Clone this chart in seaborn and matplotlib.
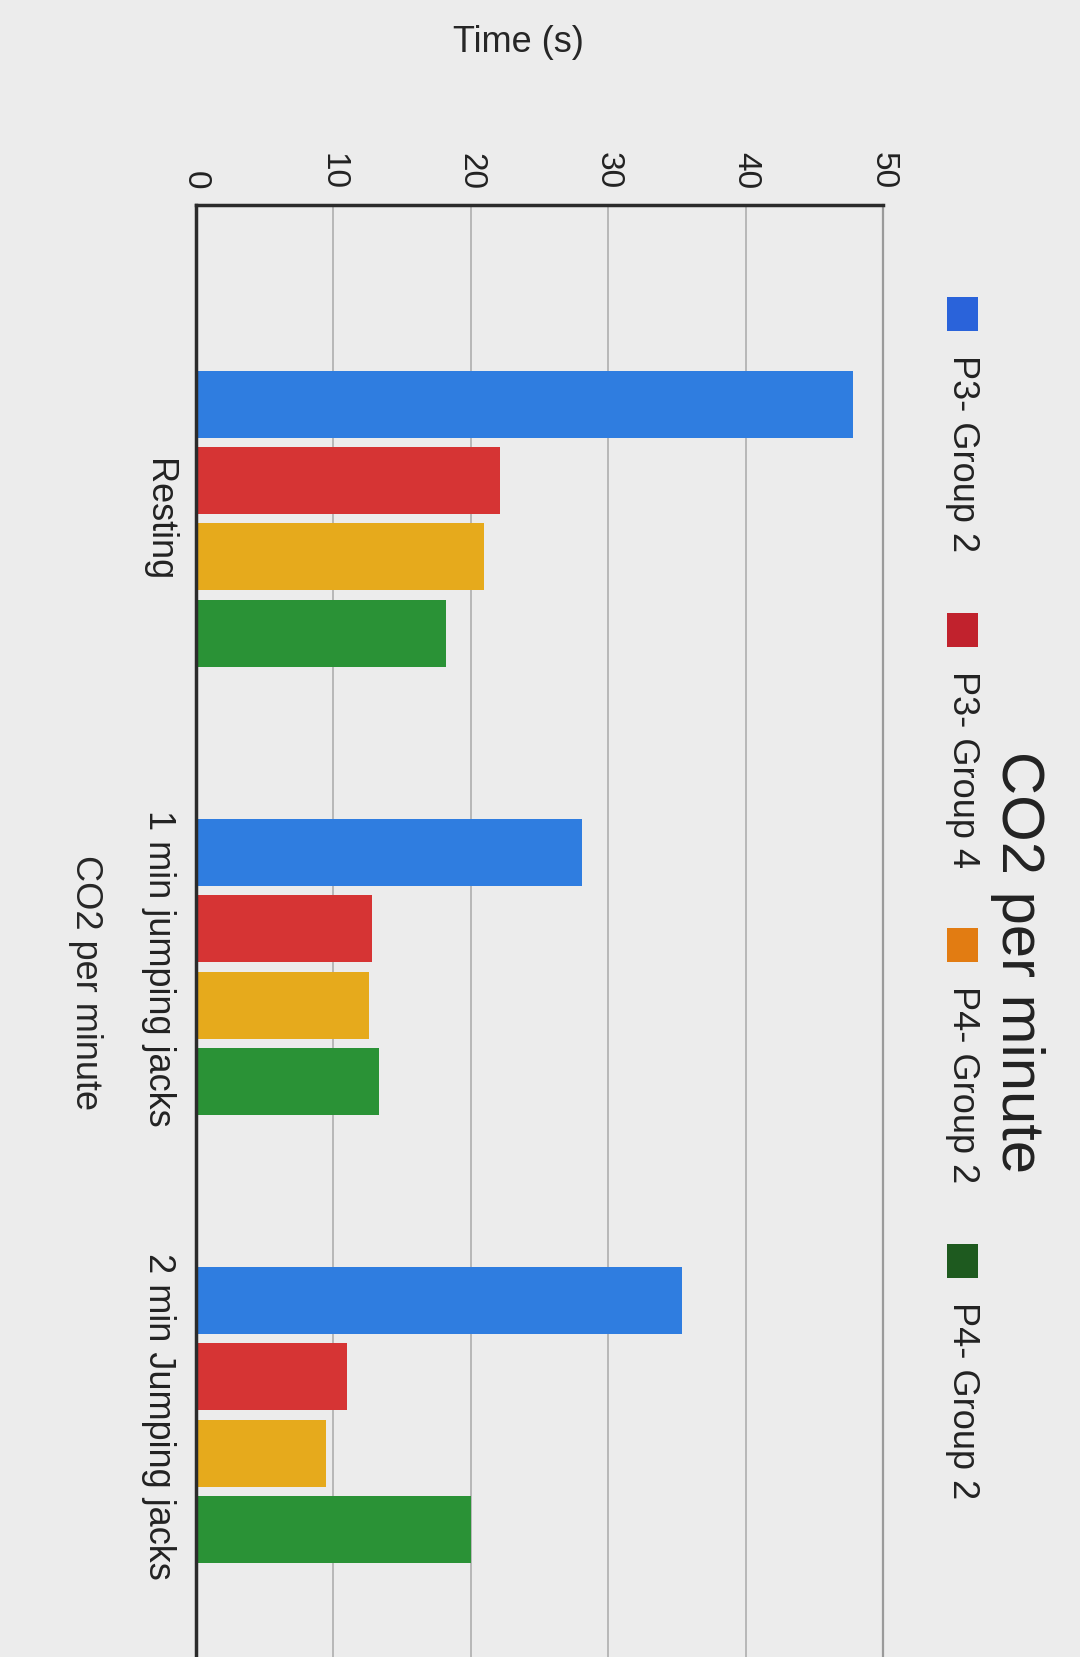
import numpy as np
import pandas as pd
import matplotlib
matplotlib.use("Agg")
import matplotlib.pyplot as plt
from matplotlib.patches import Rectangle
import seaborn as sns

# ── Data ──────────────────────────────────────────────────────────────────────
categories = ["Resting", "1 min jumping jacks", "2 min Jumping jacks"]
series_keys = ["p3_g2", "p3_g4", "p4_g2_a", "p4_g2_b"]
series_labels = ["P3- Group 2", "P3- Group 4", "P4- Group 2", "P4- Group 2"]

p3_group2 = [47.8, 28.1, 35.4]
p3_group4 = [22.1, 12.8, 11.0]
p4_group2_a = [21.0, 12.6, 9.5]
p4_group2_b = [18.2, 13.3, 20.0]

x_ticks = [0, 10, 20, 30, 40, 50]

# ── Style ─────────────────────────────────────────────────────────────────────
bar_colors = ["#2f7de0", "#d63434", "#e6aa1c", "#2a9236"]
legend_colors = ["#2a63da", "#c1222d", "#e27c12", "#1e5a1f"]
BG = "#ececec"
W, H = 1080, 1658
IMG_W, IMG_H = 1021, 1568   # layout measured on the reference photo


def fx(px):
    return px / IMG_W


def fy(py):
    return 1 - py / IMG_H


sns.set_theme(style="white")
plt.rcParams["font.family"] = ["Liberation Sans", "DejaVu Sans"]
plt.rcParams["text.color"] = "#222222"

df = pd.DataFrame({
    "category": categories * 4,
    "series": np.repeat(series_keys, len(categories)),
    "value": p3_group2 + p3_group4 + p4_group2_a + p4_group2_b,
})

fig = plt.figure(figsize=(W / 100, H / 100), dpi=100, facecolor=BG)
ax = fig.add_axes([fx(185), 0, fx(835) - fx(185), fy(195)])
ax.set_facecolor(BG)

sns.barplot(data=df, x="value", y="category", hue="series",
            order=categories, hue_order=series_keys, orient="h",
            palette=bar_colors, saturation=1, width=0.68, gap=0.12,
            linewidth=0, legend=False, ax=ax)

ax.set_xlim(0, 50)
ax.set_ylim(2.54, -0.70)

# value axis on top, everything rotated like the photo
ax.xaxis.tick_top()
ax.set_xticks(x_ticks)
ax.set_xticklabels([str(t) for t in x_ticks])
ax.tick_params(axis="x", length=0, pad=12, labelsize=24, labelrotation=270,
               colors="#222222")
ax.tick_params(axis="y", length=0, pad=14, labelsize=26, labelrotation=270,
               colors="#222222")
for lbl in ax.get_yticklabels():
    lbl.set_va("center")

ax.grid(axis="x", color="#b3b3b3", lw=1.3)
ax.grid(axis="y", visible=False)
ax.set_axisbelow(True)

for side in ["top", "left"]:
    ax.spines[side].set_color("#2b2b2b")
    ax.spines[side].set_linewidth(2.5)
ax.spines["right"].set_color("#9a9a9a")
ax.spines["right"].set_linewidth(1.6)
ax.spines["bottom"].set_visible(False)

ax.set_xlabel("Time (s)", fontsize=26)
ax.xaxis.set_label_position("top")
ax.xaxis.set_label_coords(0.469, 1.113)
ax.xaxis.label.set_va("center")

ax.set_ylabel("CO2 per minute", fontsize=26, rotation=270)
ax.yaxis.set_label_coords(-0.16, 0.465)
ax.yaxis.label.set_va("center")
ax.yaxis.label.set_ha("center")

# title (rotated)
fig.text(fx(962), fy(910), "CO2 per minute", rotation=270, fontsize=43,
         ha="center", va="center")

# legend (rotated column)
renderer = fig.canvas.get_renderer()
sq_w, sq_h = 30 / IMG_W, 32 / IMG_H
y = fy(282)
for label, color in zip(series_labels, legend_colors):
    fig.add_artist(Rectangle((fx(910) - sq_w / 2, y - sq_h), sq_w, sq_h,
                             transform=fig.transFigure, color=color, lw=0))
    y -= sq_h + 22 / IMG_H
    t = fig.text(fx(910), y, label, rotation=270, fontsize=26,
                 ha="center", va="top")
    ext = t.get_window_extent(renderer)
    y -= ext.height / H + 58 / IMG_H

fig.savefig("out.png", dpi=100, facecolor=BG)
